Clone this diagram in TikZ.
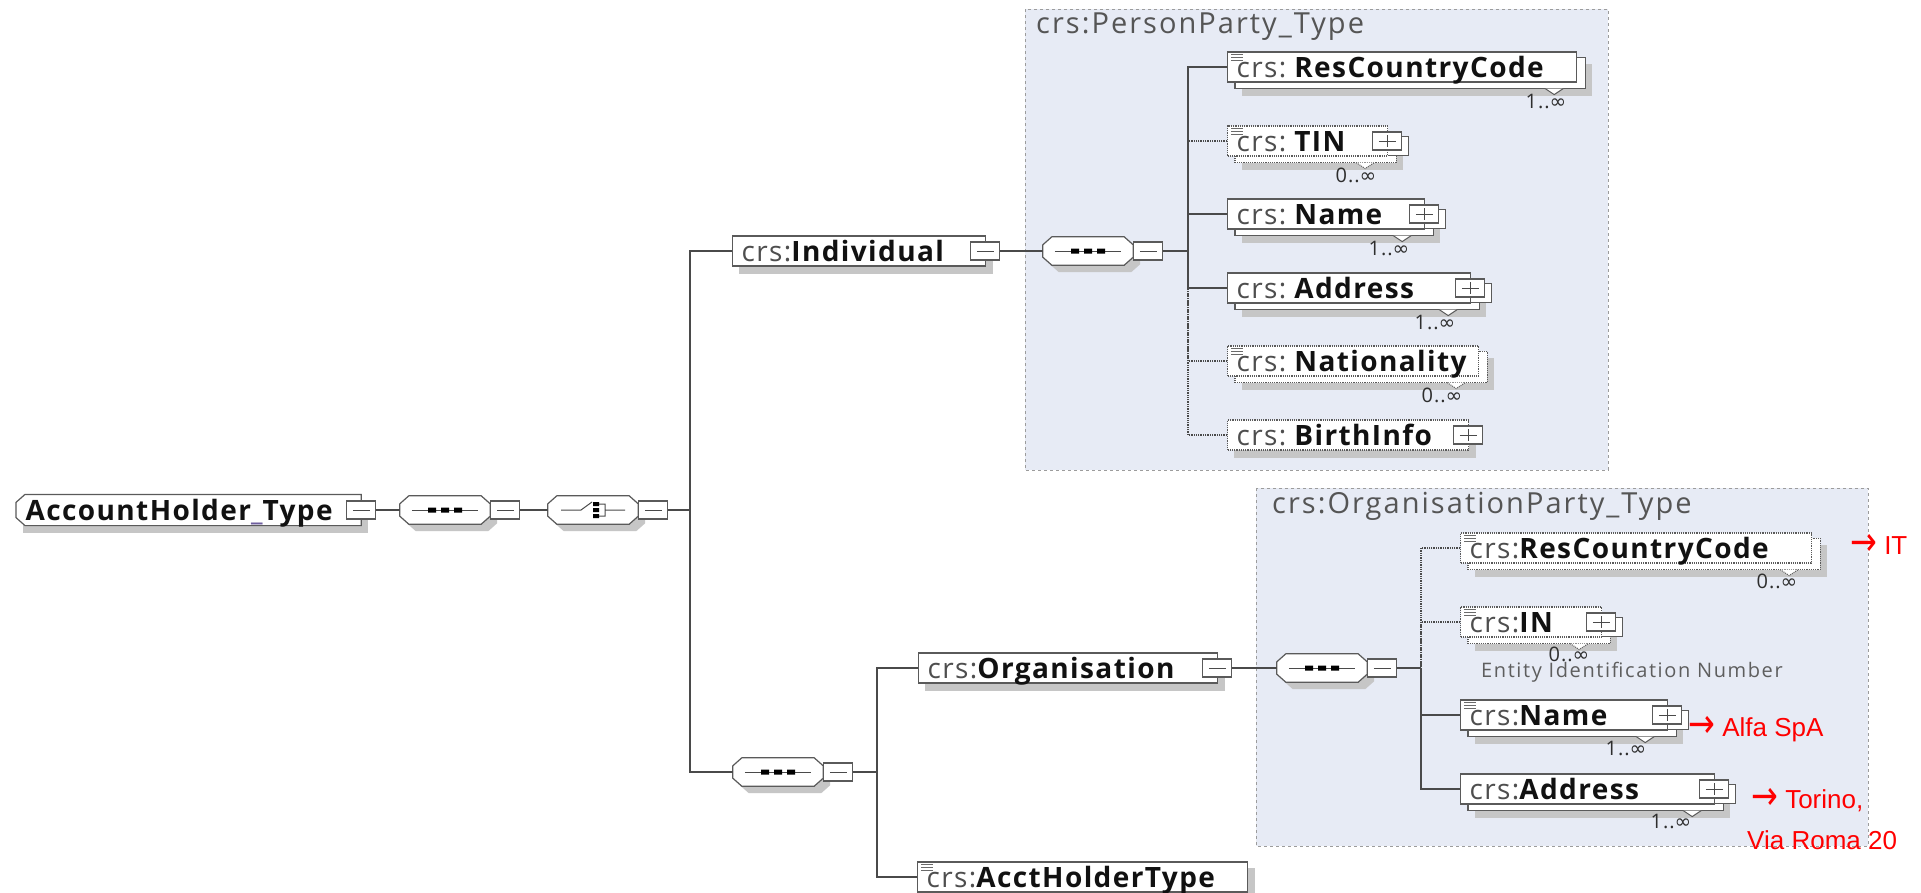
\documentclass[tikz,border=0pt]{standalone}
\usepackage{fontspec}
\usepackage{graphicx}
\setmainfont{Open Sans}
\newfontfamily\elfont[LetterSpace=5]{Open Sans}
\newfontfamily\titlefont[LetterSpace=7]{Open Sans}
\newfontfamily\entfont[LetterSpace=8]{Open Sans}
\newfontfamily\notefont{Liberation Sans}
\newfontfamily\symfont{DejaVu Sans}
\usetikzlibrary{calc}

\definecolor{bordc}{HTML}{5A5A5A}
\definecolor{shadc}{HTML}{C6C6C6}
\definecolor{contfill}{HTML}{E7EBF5}
\definecolor{contbord}{HTML}{9C9C9C}
\definecolor{linec}{HTML}{4A4A4A}
\definecolor{crsc}{HTML}{4E4E4E}
\definecolor{namec}{HTML}{111111}
\definecolor{multc}{HTML}{2E2E2E}
\definecolor{titlec}{HTML}{555555}
\definecolor{entc}{HTML}{5E5E5E}
\definecolor{docc}{HTML}{6A6A6A}
\definecolor{uscol}{HTML}{6E5E9E}
\definecolor{redc}{HTML}{FF0000}

\pgfdeclarelayer{bgcont}
\pgfdeclarelayer{bgshadow}
\pgfdeclarelayer{bgback}
\pgfsetlayers{bgcont,bgshadow,bgback,main}

% element label: gray prefix, bold local name
\newcommand\pfx[1]{\textcolor{crsc}{#1}}
\newcommand\nm[1]{\textcolor{namec}{\bfseries #1}}
\newcommand\gap{\hspace{8pt}}
\newcommand\infy{{\symfont ∞}}
\newcommand\redarrow{\raisebox{-1pt}{\scalebox{1}[1.25]{\symfont\fontsize{32}{32}\selectfont →}}}

% grey drop shadow behind a node (#1 = extra offset for stacked copies)
\newcommand\shadowof[2][0]{%
  \begin{pgfonlayer}{bgshadow}
    \fill[shadc] ([shift={(7+#1,7+0.75*#1)}]#2.north west) rectangle ([shift={(7+#1,7+0.75*#1)}]#2.south east);
  \end{pgfonlayer}}

% second copy behind a repeating element, with its multiplicity tab
\newcommand\stackof[2][]{%
  \begin{pgfonlayer}{bgback}
    \draw[elline,#1] ([shift={(8,6)}]#2.north west) rectangle ([shift={(8,6)}]#2.south east);
    \draw[elline,line width=1pt,#1] ([shift={(-32,6)}]#2.south east) -- ([shift={(-23,12)}]#2.south east) -- ([shift={(-14,6)}]#2.south east);
  \end{pgfonlayer}
  \shadowof[8]{#2}}

% copy of an expand box behind a repeating element
\newcommand\pmcopy[1]{%
  \begin{pgfonlayer}{bgback}
    \draw[elline] ([shift={(6,5)}]#1.north west) rectangle ([shift={(6,5)}]#1.south east);
  \end{pgfonlayer}}

% documentation marker in the upper left corner
\newcommand\docicon[1]{%
  \draw[docc, line width=0.9pt] ([shift={(4,3)}]#1.north west) -- ++(12,0)
    ([shift={(4,6)}]#1.north west) -- ++(12,0)
    ([shift={(4,9)}]#1.north west) -- ++(12,0);}

% octagon outline of a compositor, offset by (#2,#3)
\newcommand\octpath[3]{([shift={(9+#2,#3)}]#1.north west) -- ([shift={(-9+#2,#3)}]#1.north east) -- ([shift={(#2,8+#3)}]#1.north east) -- ([shift={(#2,-8+#3)}]#1.south east) -- ([shift={(-9+#2,#3)}]#1.south east) -- ([shift={(9+#2,#3)}]#1.south west) -- ([shift={(#2,-8+#3)}]#1.south west) -- ([shift={(#2,8+#3)}]#1.north west) -- cycle}

\newcommand\octo[1]{%
  \begin{pgfonlayer}{bgshadow}
    \fill[shadc] \octpath{#1}{7}{7};
  \end{pgfonlayer}
  \draw[elline] \octpath{#1}{0}{0};}

% sequence symbol
\newcommand\seqicon[1]{%
  \draw[linec, line width=1pt] ([shift={(12,0)}]#1.west) -- ([shift={(-12,0)}]#1.east);
  \fill[black] ([shift={(-17,-2.5)}]#1.center) rectangle ([shift={(-9,2.5)}]#1.center)
    ([shift={(-4,-2.5)}]#1.center) rectangle ([shift={(4,2.5)}]#1.center)
    ([shift={(9,-2.5)}]#1.center) rectangle ([shift={(17,2.5)}]#1.center);}

% choice symbol
\newcommand\choiceicon[1]{%
  \draw[linec, line width=1pt] ([shift={(-32,0)}]#1.center) -- ([shift={(-12,0)}]#1.center) -- ([shift={(-1,-8)}]#1.center)
    ([shift={(6,-6)}]#1.center) -- ([shift={(12,-6)}]#1.center) -- ([shift={(12,6)}]#1.center) -- ([shift={(6,6)}]#1.center)
    ([shift={(12,0)}]#1.center) -- ([shift={(32,0)}]#1.center);
  \fill[black] ([shift={(0,-8)}]#1.center) rectangle ([shift={(6,-4)}]#1.center)
    ([shift={(0,-2)}]#1.center) rectangle ([shift={(6,2)}]#1.center)
    ([shift={(0,4)}]#1.center) rectangle ([shift={(6,8)}]#1.center);}

\begin{document}
\begin{tikzpicture}[x=1pt, y=-1pt,
  every node/.style={inner sep=0pt},
  elline/.style={draw=bordc, line width=1.2pt, fill=white},
  el/.style={elline, anchor=west, minimum height=30pt, inner xsep=9pt,
    text height=20pt, text depth=0pt, align=left,
    font=\elfont\fontsize{28}{30}\selectfont},
  opt/.style={densely dotted},
  conn/.style={draw=linec, line width=1.3pt},
  optconn/.style={conn, densely dotted},
  pmbox/.style={elline, anchor=west, minimum width=29pt, minimum height=18pt},
  pmminus/.style={pmbox, path picture={\draw[linec, line width=1pt]
      ([shift={(6,0)}]path picture bounding box.west) -- ([shift={(-6,0)}]path picture bounding box.east);}},
  pmplus/.style={pmbox, path picture={\draw[linec, line width=1pt]
      ([shift={(6,0)}]path picture bounding box.west) -- ([shift={(-6,0)}]path picture bounding box.east)
      ([shift={(0,3)}]path picture bounding box.north) -- ([shift={(0,-3)}]path picture bounding box.south);}},
  octn/.style={minimum width=90pt, minimum height=28pt},
  mult/.style={font=\elfont\fontsize{20}{22}\selectfont, text=multc},
  ctitle/.style={anchor=west, font=\titlefont\fontsize{29}{32}\selectfont, text=titlec},
  note/.style={anchor=west, font=\notefont\fontsize{26}{30}\selectfont, text=redc}
]
\useasboundingbox (0,0) rectangle (1921,892);

% page and type containers
\begin{pgfonlayer}{bgcont}
  \fill[white] (0,0) rectangle (1921,892);
  \draw[contbord, fill=contfill, line width=1pt, dashed] (1025,9) rectangle (1608,470);
  \draw[contbord, fill=contfill, line width=1pt, dashed] (1256,488) rectangle (1868,846);
\end{pgfonlayer}
\node[ctitle] (ptitle) at (1036,27) {crs:PersonParty\_Type};
\node[ctitle] (otitle) at (1272,506) {crs:OrganisationParty\_Type};

% root type
\node[el, draw=none, fill=none, text width=326pt] (ah) at (16,510)
  {\nm{AccountHolder\textcolor{uscol}{\_}Type}};
\begin{pgfonlayer}{bgback}
  \draw[elline] ([shift={(9,0)}]ah.north west) -- (ah.north east) -- (ah.south east)
    -- ([shift={(9,0)}]ah.south west) -- ([shift={(0,-8)}]ah.south west)
    -- ([shift={(0,8)}]ah.north west) -- cycle;
\end{pgfonlayer}
\shadowof{ah}
\node[pmminus] (ahm) at ([shift={(-15,0)}]ah.east) {};

% compositors
\node[octn] (seq1) at (445,510) {}; \octo{seq1} \seqicon{seq1}
\node[pmminus] (seq1m) at (seq1.east) {};
\node[octn] (ch) at (593,510) {}; \octo{ch} \choiceicon{ch}
\node[pmminus] (chm) at (ch.east) {};
\coordinate (bus1) at (690,510);

% individual branch
\node[el, text width=235pt] (ind) at (732,251) {\pfx{crs:}\nm{Individual}};
\shadowof{ind}
\node[pmminus] (indm) at ([shift={(-16,0)}]ind.east) {};
\node[octn] (seq2) at (1088,251) {}; \octo{seq2} \seqicon{seq2}
\node[pmminus] (seq2m) at (seq2.east) {};
\coordinate (bus2) at (1188,251);

\node[el, text width=331pt] (prcc) at (1227,67) {\pfx{crs:}\gap\nm{ResCountryCode}};
\stackof{prcc} \docicon{prcc}
\node[mult] (pmrcc) at (1546,101) {1..\infy};

\node[el, opt, text width=142pt] (ptin) at (1227,141) {\pfx{crs:}\gap\nm{TIN}};
\stackof[opt]{ptin} \docicon{ptin}
\node[pmplus] (ptinp) at ([shift={(-16,0)}]ptin.east) {}; \pmcopy{ptinp}
\node[mult] (pmtin) at (1356,175) {0..\infy};

\node[el, text width=179pt] (pname) at (1227,214) {\pfx{crs:}\gap\nm{Name}};
\stackof{pname}
\node[pmplus] (pnamep) at ([shift={(-16,0)}]pname.east) {}; \pmcopy{pnamep}
\node[mult] (pmname) at (1389,248) {1..\infy};

\node[el, text width=225pt] (paddr) at (1227,288) {\pfx{crs:}\gap\nm{Address}};
\stackof{paddr}
\node[pmplus] (paddrp) at ([shift={(-16,0)}]paddr.east) {}; \pmcopy{paddrp}
\node[mult] (pmaddr) at (1435,322) {1..\infy};

\node[el, opt, text width=233pt] (pnat) at (1227,361) {\pfx{crs:}\gap\nm{Nationality}};
\stackof[opt]{pnat} \docicon{pnat}
\node[mult] (pmnat) at (1442,395) {0..\infy};

\node[el, opt, text width=223pt] (pbirth) at (1227,435) {\pfx{crs:}\gap\nm{BirthInfo}};
\shadowof{pbirth}
\node[pmplus] (pbirthp) at ([shift={(-16,0)}]pbirth.east) {};

% organisation branch
\node[octn] (seq3) at (778,772) {}; \octo{seq3} \seqicon{seq3}
\node[pmminus] (seq3m) at (seq3.east) {};
\coordinate (bus3) at (877,772);

\node[el, text width=281pt] (org) at (918,668) {\pfx{crs:}\nm{Organisation}};
\shadowof{org}
\node[pmminus] (orgm) at ([shift={(-16,0)}]org.east) {};
\node[octn] (seq4) at (1322,668) {}; \octo{seq4} \seqicon{seq4}
\node[pmminus] (seq4m) at (seq4.east) {};
\coordinate (bus4) at (1421,668);

\node[el, text width=312pt] (aht) at (917,877) {\pfx{crs:}\nm{AcctHolderType}};
\shadowof{aht} \docicon{aht}

\node[el, opt, text width=333pt] (orcc) at (1460,548) {\pfx{crs:}\nm{ResCountryCode}};
\stackof[opt]{orcc} \docicon{orcc}
\node[mult] (omrcc) at (1777,581) {0..\infy};

\node[el, opt, text width=123pt] (oin) at (1460,622) {\pfx{crs:}\nm{IN}};
\stackof[opt]{oin} \docicon{oin}
\node[pmplus] (oinp) at ([shift={(-16,0)}]oin.east) {}; \pmcopy{oinp}
\node[mult] (omin) at (1569,654) {0..\infy};
\node[anchor=west, font=\entfont\fontsize{20}{22}\selectfont, text=entc] (ent) at (1481,672) {Entity Identification Number};

\node[el, text width=189pt] (oname) at (1460,715) {\pfx{crs:}\nm{Name}};
\stackof{oname} \docicon{oname}
\node[pmplus] (onamep) at ([shift={(-16,0)}]oname.east) {}; \pmcopy{onamep}
\node[mult] (omname) at (1626,748) {1..\infy};

\node[el, text width=236pt] (oaddr) at (1460,789) {\pfx{crs:}\nm{Address}};
\stackof{oaddr}
\node[pmplus] (oaddrp) at ([shift={(-16,0)}]oaddr.east) {}; \pmcopy{oaddrp}
\node[mult] (omaddr) at (1671,821) {1..\infy};

% sample values
\node[note] (nit) at (1850,545) {\redarrow\ IT};
\node[note] (nalfa) at (1688,729) {\redarrow\ Alfa SpA};
\node[note] (ntor) at (1751,800) {\redarrow\ Torino,};
\node[note] (nvia) at (1747,840) {Via Roma 20};

% connectors
\draw[conn] (ahm.east) -- (seq1.west);
\draw[conn] (seq1m.east) -- (ch.west);
\draw[conn] (chm.east) -- (bus1);
\draw[conn] (ind.west) -| (bus1);
\draw[conn] (seq3.west) -| (bus1);

\draw[conn] (indm.east) -- (seq2.west);
\draw[conn] (seq2m.east) -- (bus2);
\draw[optconn] (ptin.west) -| (bus2);
\draw[optconn] (pnat.west) -| (bus2);
\draw[optconn] (pbirth.west) -| (bus2);
\draw[conn] (prcc.west) -| (bus2);
\draw[conn] (pname.west) -| (bus2);
\draw[conn] (paddr.west) -| (bus2);

\draw[conn] (seq3m.east) -- (bus3);
\draw[conn] (org.west) -| (bus3);
\draw[conn] (aht.west) -| (bus3);

\draw[conn] (orgm.east) -- (seq4.west);
\draw[conn] (seq4m.east) -- (bus4);
\draw[optconn] (orcc.west) -| (bus4);
\draw[optconn] (oin.west) -| (bus4);
\draw[conn] (oname.west) -| (bus4);
\draw[conn] (oaddr.west) -| (bus4);
\end{tikzpicture}
\end{document}
